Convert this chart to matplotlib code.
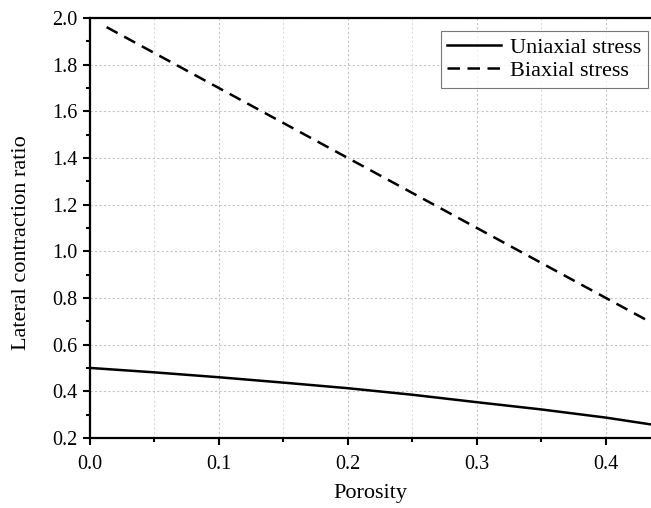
import matplotlib
matplotlib.use("Agg")
import matplotlib.pyplot as plt
from matplotlib.ticker import MultipleLocator

plt.rcParams["font.family"] = ["Liberation Serif", "DejaVu Serif"]

# porosity vs lateral contraction ratio
uni_x = [0.0, 0.05, 0.1, 0.15, 0.2, 0.25, 0.3, 0.35, 0.4, 0.437]
uni_y = [0.500, 0.481, 0.460, 0.437, 0.413, 0.385, 0.353, 0.322, 0.287, 0.256]

bi_x = [0.013, 0.1, 0.2, 0.3, 0.4, 0.437]
bi_y = [1.961, 1.700, 1.400, 1.100, 0.800, 0.689]

fig = plt.figure(figsize=(6.51, 5.08), dpi=100)
ax = fig.add_axes([0.138, 0.138, 0.862, 0.8265])

ax.plot(uni_x, uni_y, color="black", lw=1.8, label="Uniaxial stress")
ax.plot(bi_x, bi_y, color="black", lw=1.8, ls=(0, (5, 3)), label="Biaxial stress")

ax.set_xlim(0, 0.435)
ax.set_ylim(0.2, 2.0)
ax.xaxis.set_major_locator(MultipleLocator(0.1))
ax.xaxis.set_minor_locator(MultipleLocator(0.05))
ax.yaxis.set_major_locator(MultipleLocator(0.2))
ax.yaxis.set_minor_locator(MultipleLocator(0.1))
ax.xaxis.set_major_formatter(plt.FormatStrFormatter("%.1f"))
ax.yaxis.set_major_formatter(plt.FormatStrFormatter("%.1f"))

ax.grid(True, which="major", color="#c4c4c4", ls=(0, (2, 2)), lw=0.8)
ax.grid(True, which="minor", axis="x", color="#dddddd", ls=(0, (2, 2)), lw=0.8)
ax.set_axisbelow(True)

for s in ["left", "bottom", "top"]:
    ax.spines[s].set_linewidth(1.6)
ax.spines["right"].set_visible(False)

ax.tick_params(which="major", direction="out", length=5, width=1.5, labelsize=14.5, pad=4)
ax.tick_params(axis="x", which="major", pad=7)
ax.tick_params(which="minor", direction="out", length=3, width=1.5)

ax.set_xlabel("Porosity", fontsize=16)
ax.set_ylabel("Lateral contraction ratio", fontsize=16)
ax.xaxis.set_label_coords(0.5, -0.110)
ax.yaxis.set_label_coords(-0.105, 0.465)

leg = ax.legend(loc="upper right", bbox_to_anchor=(0.994, 0.969), fontsize=16,
                frameon=True, fancybox=False, edgecolor="#555555",
                handlelength=2.4, borderpad=0.3, labelspacing=0.1,
                handletextpad=0.4, borderaxespad=0)
leg.get_frame().set_linewidth(0.8)

plt.savefig("out.png", dpi=100)
